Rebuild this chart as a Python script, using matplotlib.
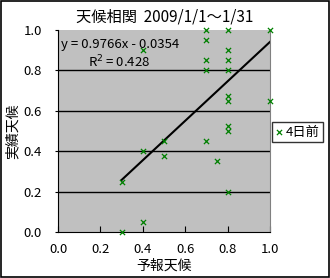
import matplotlib
matplotlib.use('Agg')
import numpy as np
import matplotlib.pyplot as plt
from matplotlib.patches import Rectangle

plt.rcParams['font.family'] = ['Noto Sans CJK JP', 'DejaVu Sans']

# ---------- Data (forecast vs actual) ----------
forecast = [0.3, 0.3, 0.4, 0.4, 0.4, 0.5, 0.5,
            0.7, 0.7, 0.7, 0.7, 0.7, 0.75,
            0.8, 0.8, 0.8, 0.8, 0.8, 0.8, 0.8, 0.8, 0.8,
            1.0, 1.0]
actual = [0.25, 0.0, 0.9, 0.4, 0.05, 0.45, 0.375,
          1.0, 0.95, 0.85, 0.8, 0.45, 0.35,
          1.0, 0.9, 0.85, 0.8, 0.675, 0.65, 0.525, 0.5, 0.2,
          1.0, 0.65]
slope, intercept = 0.9766, -0.0354
r2 = 0.428
ticks = [0.0, 0.2, 0.4, 0.6, 0.8, 1.0]

# ---------- Figure ----------
fig = plt.figure(figsize=(3.3, 2.78), dpi=100)
fig.patch.set_facecolor('white')
fig.patches.append(Rectangle((0.002, 0.002), 0.995, 0.994, transform=fig.transFigure,
                             fill=False, edgecolor='black', linewidth=1.2))

ax = fig.add_axes([58/330, 46/278, 212/330, 202/278])
ax.set_facecolor('#C0C0C0')

for y in ticks[1:-1]:
    ax.axhline(y, color='black', linewidth=1, zorder=1)

ax.scatter(forecast, actual, marker='x', s=14, color='#008000', linewidths=0.9,
           zorder=3, clip_on=False, label='4日前')

xs = np.array([min(forecast), max(forecast)])
ax.plot(xs, slope * xs + intercept, color='black', linewidth=1.5, zorder=2)

ax.set_xlim(0, 1)
ax.set_ylim(0, 1)
ax.set_xticks(ticks)
ax.set_yticks(ticks)
ax.set_xticklabels([f'{t:.1f}' for t in ticks], fontsize=9.5)
ax.set_yticklabels([f'{t:.1f}' for t in ticks], fontsize=9.5)
ax.tick_params(axis='x', direction='in', length=4, pad=8)
ax.tick_params(axis='y', direction='out', length=2, pad=9.5)

ax.spines['left'].set_color('black')
ax.spines['bottom'].set_color('black')
ax.spines['top'].set_visible(False)
ax.spines['right'].set_color('#808080')

ax.set_xlabel('予報天候', fontsize=10)
ax.set_ylabel('実績天候', fontsize=10)
ax.xaxis.set_label_coords(0.5, -0.13)
ax.yaxis.set_label_coords(-0.18, 0.5)
fig.text(0.5, 0.94, '天候相関  2009/1/1～1/31', ha='center', va='center', fontsize=11)

ax.text(0.015, 0.93, f'y = {slope}x - {abs(intercept)}', transform=ax.transAxes,
        fontsize=9.5, va='center', ha='left')
ax.text(0.14, 0.84, f'R$^2$ = {r2}', transform=ax.transAxes,
        fontsize=9.5, va='center', ha='left')

leg = fig.legend(loc='center left', bbox_to_anchor=(272/330, 1 - 132/278),
                 fontsize=9.5, frameon=True, fancybox=False, handlelength=0.5,
                 handletextpad=0.3, borderpad=0.25, borderaxespad=0)
leg.get_frame().set_edgecolor('black')
leg.get_frame().set_linewidth(1)

fig.savefig('out.png', dpi=100)
